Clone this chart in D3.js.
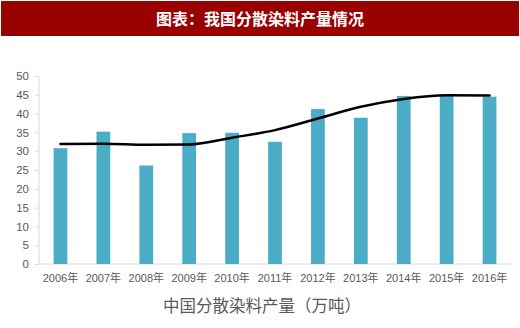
<!DOCTYPE html>
<html><head><meta charset="utf-8">
<script src="https://cdn.jsdelivr.net/npm/d3@7"></script>
<style>body{margin:0;background:#fff}svg{display:block}</style>
</head><body>
<script>
const titleText = "图表：我国分散染料产量情况";
const axisTitle = "中国分散染料产量（万吨）";
const years = ["2006年","2007年","2008年","2009年","2010年","2011年","2012年","2013年","2014年","2015年","2016年"];
const production = [30.8, 35.2, 26.2, 34.8, 34.9, 32.5, 41.2, 38.9, 44.7, 44.9, 44.5];
const trend = [31.9, 32.0, 31.7, 31.8, 33.6, 35.6, 38.7, 41.8, 43.9, 44.9, 44.8];
const yTicks = [0,5,10,15,20,25,30,35,40,45,50];

const W = 520, H = 328;
const svg = d3.select("body").append("svg").attr("width", W).attr("height", H);

svg.append("rect").attr("x",1).attr("y",1).attr("width",518).attr("height",35).attr("fill","#990000");
svg.append("text").attr("x",260).attr("y",24.5).attr("text-anchor","middle")
  .attr("fill","#fff").attr("font-family","'Noto Sans CJK SC'").attr("font-weight","bold")
  .attr("font-size",16).text(titleText);

const x = d3.scaleBand().domain(years).range([39, 511]).paddingInner(0.68).paddingOuter(0.34);
const y = d3.scaleLinear().domain([0, 50]).range([264, 76]);

// y axis
const yAxis = d3.axisLeft(y).tickValues(yTicks).tickSize(4).tickPadding(6);
const gy = svg.append("g").attr("transform","translate(39,0)").call(yAxis);
gy.select(".domain").attr("stroke","#d9d9d9").attr("d","M0,76V264");
gy.selectAll(".tick line").attr("stroke","#d9d9d9");
gy.selectAll(".tick text").attr("fill","#595959").attr("font-family","'Liberation Sans'").attr("font-size",11.5);

// x axis
const xAxis = d3.axisBottom(x).tickSize(0).tickPadding(10);
const gx = svg.append("g").attr("transform","translate(0,264)").call(xAxis);
gx.select(".domain").attr("stroke","#d9d9d9").attr("d","M39,0H511");
gx.selectAll(".tick text").attr("fill","#595959").attr("font-family","'Liberation Sans','Noto Sans CJK SC'").attr("font-size",11);

// bars
svg.append("g").selectAll("rect").data(production).join("rect")
  .attr("x",(d,i)=>x(years[i])).attr("width",x.bandwidth())
  .attr("y",d=>y(d)).attr("height",d=>y(0)-y(d))
  .attr("fill","#4bacc6");

// trend line
const line = d3.line().x((d,i)=>x(years[i])+x.bandwidth()/2).y(d=>y(d)).curve(d3.curveMonotoneX);
svg.append("path").datum(trend).attr("d",line).attr("fill","none")
  .attr("stroke","#000").attr("stroke-width",2.5).attr("stroke-linecap","round");

svg.append("text").attr("x",262).attr("y",312).attr("text-anchor","middle")
  .attr("fill","#595959").attr("font-family","'Noto Sans CJK SC'").attr("font-size",16.5).text(axisTitle);
</script>
</body></html>
